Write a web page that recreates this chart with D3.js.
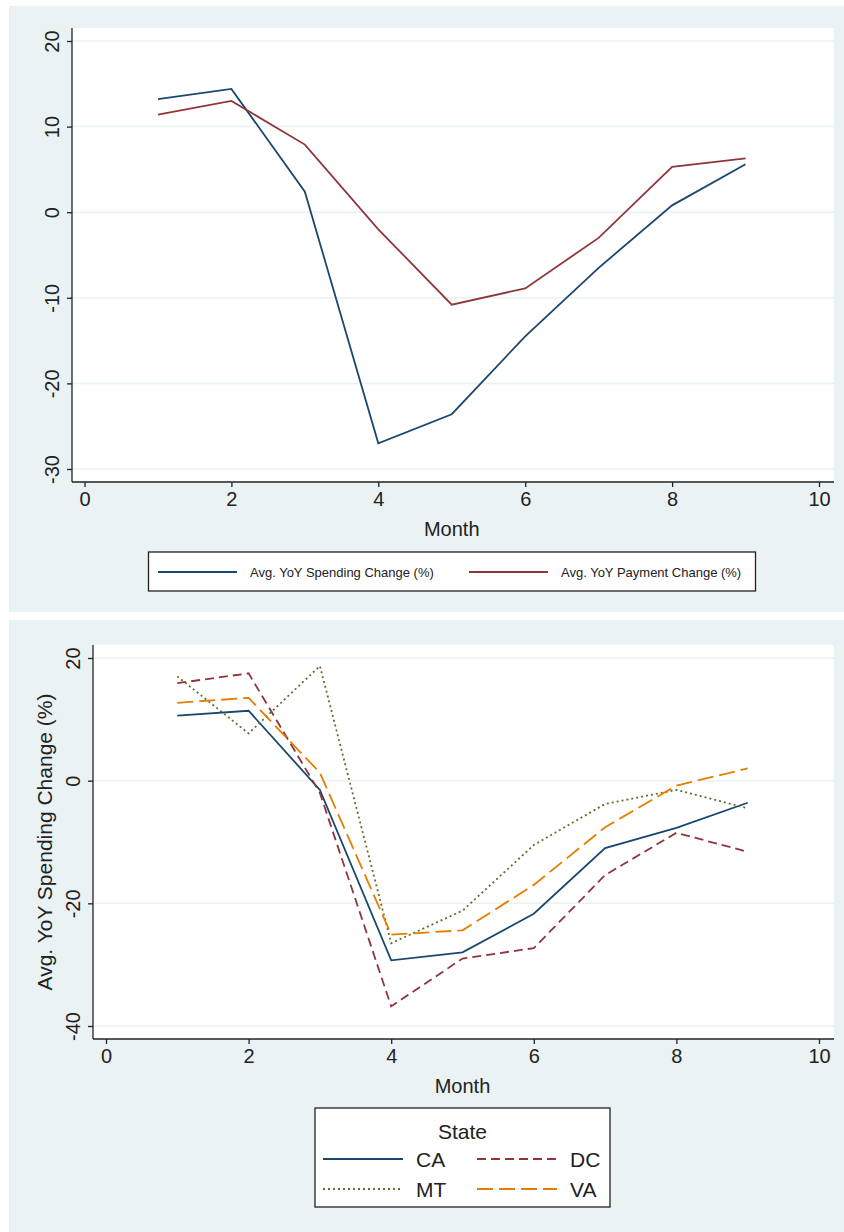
<!DOCTYPE html>
<html><head><meta charset="utf-8">
<script src="https://cdn.jsdelivr.net/npm/d3@7"></script>
<style>body{margin:0;background:#fff}text{font-family:"Liberation Sans",Arial,sans-serif;fill:#222}</style>
</head><body><svg width="844" height="1232"></svg>
<script>
const months = [1, 2, 3, 4, 5, 6, 7, 8, 9];
const spending = [13.2, 14.4, 2.4, -27, -23.6, -14.5, -6.5, 0.8, 5.6];
const payment = [11.4, 13, 7.9, -2, -10.8, -8.9, -3, 5.3, 6.3];
const ca = [10.6, 11.4, -1.5, -29.3, -28, -21.7, -11, -7.7, -3.6];
const dc = [15.9, 17.5, -2, -36.8, -29, -27.3, -15.4, -8.5, -11.6];
const mt = [17, 7.7, 18.7, -26.5, -21.2, -10.5, -3.8, -1.5, -4.5];
const va = [12.7, 13.5, 1.3, -25.1, -24.4, -17, -7.6, -0.8, 2];
const xTicks = [0, 2, 4, 6, 8, 10];

const svg = d3.select("svg");
const bg = "#eaf2f3";

function panel(o) {
  svg.append("rect").attr("x", 9).attr("y", o.bgTop).attr("width", 835).attr("height", o.bgH).attr("fill", bg);
  svg.append("rect").attr("x", o.left).attr("y", o.top).attr("width", 834 - o.left).attr("height", o.bottom - o.top).attr("fill", "#fff");
  const x = d3.scaleLinear().domain([0, 10]).range([o.x0, 819]);
  const y = d3.scaleLinear().domain(o.yDom).range(o.yRange);
  const g = svg.append("g");
  g.selectAll(".grid").data(o.yTicks).join("line")
    .attr("x1", o.left).attr("x2", 834).attr("y1", y).attr("y2", y)
    .attr("stroke", bg).attr("stroke-width", 1.5);
  const xa = g.append("g").attr("transform", `translate(0,${o.bottom})`)
    .call(d3.axisBottom(x).tickValues(xTicks).tickFormat(d => String(d)).tickSize(5).tickPadding(5));
  xa.select(".domain").attr("d", `M${o.left},0H834`);
  xa.selectAll("text").attr("font-size", 20);
  const ya = g.append("g").attr("transform", `translate(${o.left},0)`)
    .call(d3.axisLeft(y).tickValues(o.yTicks).tickFormat(d => String(d)).tickSize(5));
  ya.select(".domain").attr("d", `M0,${o.top}V${o.bottom}`);
  ya.selectAll(".tick text").attr("text-anchor", "middle").attr("font-size", 20)
    .attr("x", 0).attr("dy", "0.35em").attr("transform", "translate(-20,0) rotate(-90)");
  g.selectAll(".domain, .tick line").attr("stroke", "#222").attr("stroke-width", 1.3);
  svg.append("text").attr("x", (o.x0 + 819) / 2).attr("y", o.bottom + 54).attr("text-anchor", "middle").attr("font-size", 20).text("Month");
  return { x, y };
}

function drawLine(s, vals, color, dash) {
  const line = d3.line().x((d, i) => s.x(months[i])).y(d => s.y(d));
  svg.append("path").datum(vals).attr("d", line).attr("fill", "none")
    .attr("stroke", color).attr("stroke-width", 1.8).attr("stroke-dasharray", dash || null);
}

// top panel
const s1 = panel({ bgTop: 6, bgH: 606, left: 72, top: 28, bottom: 482, x0: 84.5,
  yDom: [-30, 20], yRange: [469, 41], yTicks: [-30, -20, -10, 0, 10, 20] });
drawLine(s1, spending, "#1a476f");
drawLine(s1, payment, "#90353b");
svg.append("rect").attr("x", 148.5).attr("y", 552).attr("width", 607).attr("height", 39).attr("fill", "#fff").attr("stroke", "#222").attr("stroke-width", 1.3);
[["#1a476f", "Avg. YoY Spending Change (%)", 158], ["#90353b", "Avg. YoY Payment Change (%)", 469]].forEach(l => {
  svg.append("line").attr("x1", l[2]).attr("x2", l[2] + 79).attr("y1", 572).attr("y2", 572).attr("stroke", l[0]).attr("stroke-width", 1.8);
  svg.append("text").attr("x", l[2] + 92).attr("y", 577).attr("font-size", 13).text(l[1]);
});

// bottom panel
const s2 = panel({ bgTop: 620, bgH: 612, left: 93, top: 645, bottom: 1039, x0: 106,
  yDom: [-40, 20], yRange: [1026, 658], yTicks: [-40, -20, 0, 20] });
const states = [["CA", ca, "#1a476f", null], ["DC", dc, "#90353b", "9,5"], ["MT", mt, "#55752f", "2,3"], ["VA", va, "#e37e00", "16,6"]];
states.forEach(st => drawLine(s2, st[1], st[2], st[3]));
svg.append("text").attr("transform", "translate(52,842) rotate(-90)").attr("text-anchor", "middle").attr("font-size", 21)
  .text("Avg. YoY Spending Change (%)");
svg.append("rect").attr("x", 315).attr("y", 1108).attr("width", 295).attr("height", 99).attr("fill", "#fff").attr("stroke", "#222").attr("stroke-width", 1.3);
svg.append("text").attr("x", 462.5).attr("y", 1139).attr("text-anchor", "middle").attr("font-size", 21).text("State");
states.forEach((st, i) => {
  const cx = i % 2 === 0 ? 323 : 477, cy = i < 2 ? 1159 : 1189;
  svg.append("line").attr("x1", cx).attr("x2", cx + 80).attr("y1", cy).attr("y2", cy).attr("stroke", st[2]).attr("stroke-width", 1.8).attr("stroke-dasharray", st[3]);
  svg.append("text").attr("x", cx + 93).attr("y", cy + 8).attr("font-size", 21).text(st[0]);
});
</script></body></html>
